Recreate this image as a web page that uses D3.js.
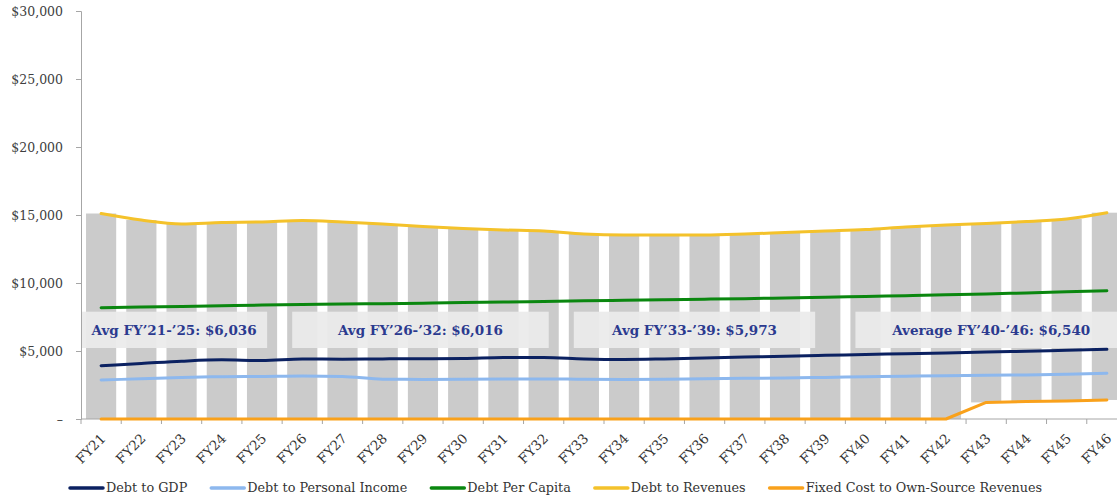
<!DOCTYPE html>
<html>
<head>
<meta charset="utf-8">
<script src="https://cdn.jsdelivr.net/npm/d3@7"></script>
<style>
  body { margin: 0; background: #fff; }
  svg { display: block; }
</style>
</head>
<body>
<div id="chart"></div>
<script>
// fiscal years
var years = ["FY21","FY22","FY23","FY24","FY25","FY26","FY27","FY28","FY29","FY30","FY31","FY32","FY33",
             "FY34","FY35","FY36","FY37","FY38","FY39","FY40","FY41","FY42","FY43","FY44","FY45","FY46"];

// series values ($)
var debtToGDP = [3920,4080,4250,4350,4300,4420,4400,4420,4430,4450,4520,4530,4420,
                 4380,4420,4480,4550,4620,4680,4740,4800,4860,4920,4980,5050,5120];
var debtToPersonalIncome = [2870,2960,3060,3110,3130,3160,3130,2930,2910,2920,2940,2950,2920,
                            2910,2930,2960,2990,3020,3060,3110,3150,3180,3210,3240,3290,3360];
var debtPerCapita = [8180,8230,8280,8330,8380,8420,8450,8480,8520,8560,8600,8640,8690,
                     8730,8770,8810,8850,8900,8950,9010,9070,9130,9200,9270,9350,9430];
var debtToRevenues = [15110,14630,14340,14450,14490,14600,14490,14340,14150,14010,13900,13820,13600,
                      13530,13530,13530,13600,13710,13820,13930,14120,14260,14370,14520,14710,15170];
var fixedCost = [0,0,0,0,0,0,0,0,0,0,0,0,0,
                 0,0,0,0,0,0,0,0,0,1220,1290,1330,1400];

var yTicks = [0,5000,10000,15000,20000,25000,30000];

// period averages
var avgLabels = ["Avg FY\u201921-\u201925: $6,036","Avg FY\u201926-\u201932: $6,016",
                 "Avg FY\u201933-\u201939: $5,973","Average FY\u201940-\u201946: $6,540"];
var avgFrom = ["FY21","FY26","FY33","FY40"];
var avgTo   = ["FY25","FY32","FY39","FY46"];

var seriesNames = ["Debt to GDP","Debt to Personal Income","Debt Per Capita","Debt to Revenues","Fixed Cost to Own-Source Revenues"];
var seriesColors = ["#0b2161","#8db8ee","#0a870f","#f4c22b","#f9a11b"];
var seriesData = [debtToGDP, debtToPersonalIncome, debtPerCapita, debtToRevenues, fixedCost];

var width = 1117, height = 499;
var margin = {top: 11, left: 81, bottom: 80};

var svg = d3.select("#chart")
  .append("svg")
  .attr("width", width)
  .attr("height", height);

var x = d3.scaleBand()
  .domain(years)
  .range([margin.left, 1127])
  .paddingInner(0.25)
  .paddingOuter(0.125);

var y = d3.scaleLinear()
  .domain([0, 30000])
  .range([height - margin.bottom, margin.top]);

var step = x.step();
var cx = function(d){ return x(d) + x.bandwidth() / 2; };

// grey bars between fixed cost and debt to revenues
svg.append("g")
  .selectAll("rect")
  .data(years)
  .enter().append("rect")
    .attr("x", function(d){ return x(d); })
    .attr("width", x.bandwidth())
    .attr("y", function(d, i){ return y(debtToRevenues[i]); })
    .attr("height", function(d, i){ return y(fixedCost[i]) - y(debtToRevenues[i]); })
    .attr("fill", "#cbcbcb");

// average boxes
var boxes = svg.append("g");
avgLabels.forEach(function(lbl, i){
  var x0 = i == 0 ? margin.left : x(avgFrom[i]) + 5;
  var x1 = i == 3 ? 1127 : x(avgTo[i]) + x.bandwidth() - 10;
  if (i == 2) x1 = x(avgTo[i]) + 5;
  var top = y(7890), bot = y(5220);
  boxes.append("rect")
    .attr("x", x0)
    .attr("y", top)
    .attr("width", x1 - x0)
    .attr("height", bot - top)
    .attr("fill", "#ebebeb")
    .attr("opacity", 0.93);
  boxes.append("text")
    .attr("x", (x0 + x1) / 2)
    .attr("y", (top + bot) / 2)
    .attr("dy", "0.35em")
    .attr("text-anchor", "middle")
    .style("font", "bold 13.5px 'DejaVu Serif'")
    .attr("fill", "#2b3a8f")
    .text(lbl);
});

// y axis
var yAxis = d3.axisLeft(y)
  .tickValues(yTicks)
  .tickSize(5)
  .tickPadding(13)
  .tickFormat(function(d){ return d == 0 ? "\u2013" : "$" + d3.format(",")(d); });

var gy = svg.append("g")
  .attr("transform", "translate(" + margin.left + ",0)")
  .call(yAxis);
gy.select(".domain").attr("stroke", "#a6a6a6");
gy.selectAll(".tick line").attr("stroke", "#a6a6a6");
gy.selectAll(".tick text")
  .style("font", "12.5px 'DejaVu Serif'")
  .attr("fill", "#404040");

// x axis
var gx = svg.append("g")
  .attr("transform", "translate(0," + y(0) + ")");
gx.append("line")
  .attr("x1", margin.left).attr("x2", width)
  .attr("stroke", "#a6a6a6");
gx.selectAll(".xt")
  .data(years)
  .enter().append("line")
    .attr("class", "xt")
    .attr("x1", function(d){ return x(d) - x.paddingOuter() * step; })
    .attr("x2", function(d){ return x(d) - x.paddingOuter() * step; })
    .attr("y1", 0).attr("y2", 5)
    .attr("stroke", "#a6a6a6");
gx.selectAll(".xl")
  .data(years)
  .enter().append("text")
    .attr("class", "xl")
    .attr("text-anchor", "end")
    .attr("transform", function(d){ return "translate(" + (cx(d) + 2) + ",17) rotate(-45)"; })
    .attr("dy", "0.35em")
    .style("font", "13.5px 'DejaVu Serif'")
    .attr("fill", "#333")
    .text(function(d){ return d; });

// lines
var line = d3.line()
  .x(function(d, i){ return cx(years[i]); })
  .y(function(d){ return y(d); })
  .curve(d3.curveMonotoneX);

var drawOrder = [4, 1, 0, 2, 3];
drawOrder.forEach(function(k){
  svg.append("path")
    .datum(seriesData[k])
    .attr("d", k == 4 ? line.curve(d3.curveLinear) : line.curve(d3.curveMonotoneX))
    .attr("fill", "none")
    .attr("stroke", seriesColors[k])
    .attr("stroke-width", 3)
    .attr("stroke-linejoin", "round")
    .attr("stroke-linecap", "round");
});

// legend
var legend = svg.append("g")
  .attr("transform", "translate(70," + 488 + ")");
var lx = 0;
seriesNames.forEach(function(name, i){
  var g = legend.append("g").attr("transform", "translate(" + lx + ",0)");
  g.append("line")
    .attr("x1", 0).attr("x2", 33)
    .attr("stroke", seriesColors[i])
    .attr("stroke-width", 3.5)
    .attr("stroke-linecap", "round");
  var t = g.append("text")
    .attr("x", 36)
    .attr("dy", "0.35em")
    .style("font", "12.8px 'DejaVu Serif'")
    .attr("fill", "#333")
    .text(name);
  lx += 36 + t.node().getComputedTextLength() + 24;
});
</script>
</body>
</html>
